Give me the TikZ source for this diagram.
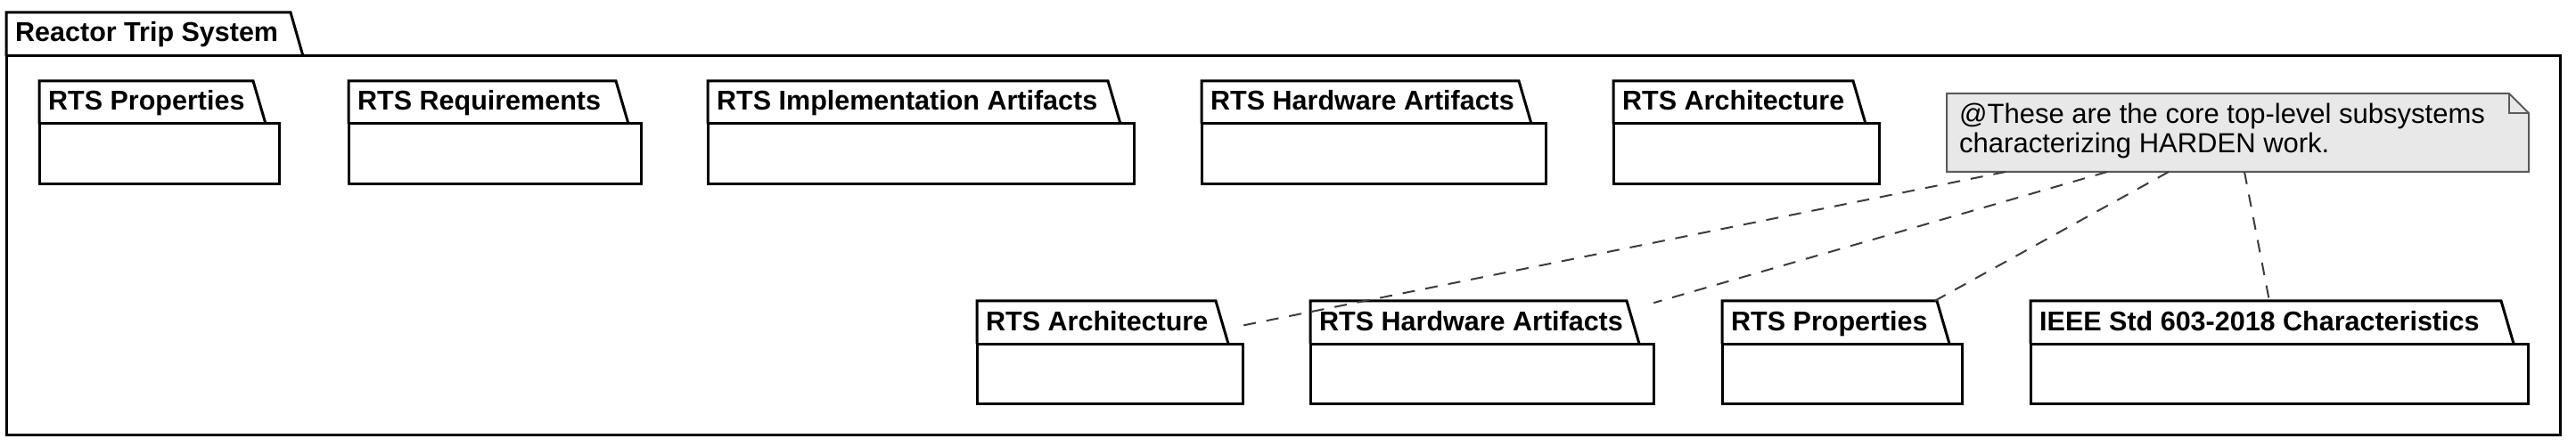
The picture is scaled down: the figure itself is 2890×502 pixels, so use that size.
\documentclass[tikz,border=0pt]{standalone}
\usepackage{fontspec}
\setmainfont{Liberation Sans}
\usetikzlibrary{fit}
\definecolor{notefill}{RGB}{232,232,232}
\definecolor{noteline}{RGB}{90,90,90}
\definecolor{linkline}{RGB}{60,60,60}
\tikzset{
  pkgline/.style={line width=3pt, draw=black, line join=miter},
  pkgtitle/.style={anchor=base west, inner sep=0pt, font=\bfseries\fontsize{30.5}{36}\selectfont},
  notetext/.style={anchor=base west, inner sep=0pt, font=\fontsize{31}{36}\selectfont},
  notebox/.style={fill=notefill, draw=noteline, line width=2pt, line join=miter},
  linkstyle/.style={draw=linkline, line width=2pt, dash pattern=on 14pt off 12pt},
  bboxnode/.style={inner sep=0pt},
}
% name, left, tab top-right, right, top, tab bottom, bottom, label
\newcommand\pkgshape[8]{%
  \draw[pkgline, fill=white] (#2,#6) -- (#2,#5) -- (#3,#5) -- (#3+14,#6);
  \draw[pkgline, fill=white] (#2,#6) rectangle (#4,#7);
  \node[bboxnode, fit={(#2,#5) (#4,#7)}] (#1) {};
  \node[pkgtitle] (#1-title) at (#2+10,#5+33) {#8};
}
\begin{document}
\begin{tikzpicture}[x=1pt,y=-1pt]
  \useasboundingbox (0,0) rectangle (2890,502);
  \fill[white] (0,0) rectangle (2890,502);

  % outer package
  \pkgshape{outer}{7}{326}{2872}{14}{63}{488}{Reactor Trip System}

  % top row
  \pkgshape{propA}{44}{284}{313}{91}{139}{207}{RTS Properties}
  \pkgshape{reqA}{391}{691}{719}{91}{139}{207}{RTS Requirements}
  \pkgshape{implA}{794}{1243}{1272}{91}{139}{207}{RTS Implementation Artifacts}
  \pkgshape{hwA}{1348}{1704}{1734}{91}{139}{207}{RTS Hardware Artifacts}
  \pkgshape{archA}{1810}{2079}{2108}{91}{139}{207}{RTS Architecture}

  % bottom row
  \pkgshape{archB}{1096}{1364}{1394}{338}{386}{453}{RTS Architecture}
  \pkgshape{hwB}{1470}{1825}{1855}{338}{386}{453}{RTS Hardware Artifacts}
  \pkgshape{propB}{1932}{2173}{2201}{338}{386}{453}{RTS Properties}
  \pkgshape{ieee}{2278}{2806}{2836}{338}{386}{453}{IEEE Std 603-2018 Characteristics}

  % note
  \draw[notebox] (2184,105) -- (2815,105) -- (2837,127) -- (2837,193) -- (2184,193) -- cycle;
  \draw[draw=noteline, line width=2pt] (2815,105) -- (2815,127) -- (2837,127);
  \node[bboxnode, fit={(2184,105) (2837,193)}] (note) {};
  \node[notetext] (notel1) at (2198,139) {@These are the core top-level subsystems};
  \node[notetext] (notel2) at (2198,172) {characterizing HARDEN work.};

  % connectors
  \coordinate (s1) at (2250,193);
  \coordinate (s2) at (2364,193);
  \coordinate (s3) at (2433,193);
  \coordinate (s4) at (2518,193);
  \draw[linkstyle] (s1) -- (archB);
  \draw[linkstyle] (s2) -- (hwB);
  \draw[linkstyle] (s3) -- (propB);
  \draw[linkstyle] (s4) -- (ieee);
\end{tikzpicture}
\end{document}
